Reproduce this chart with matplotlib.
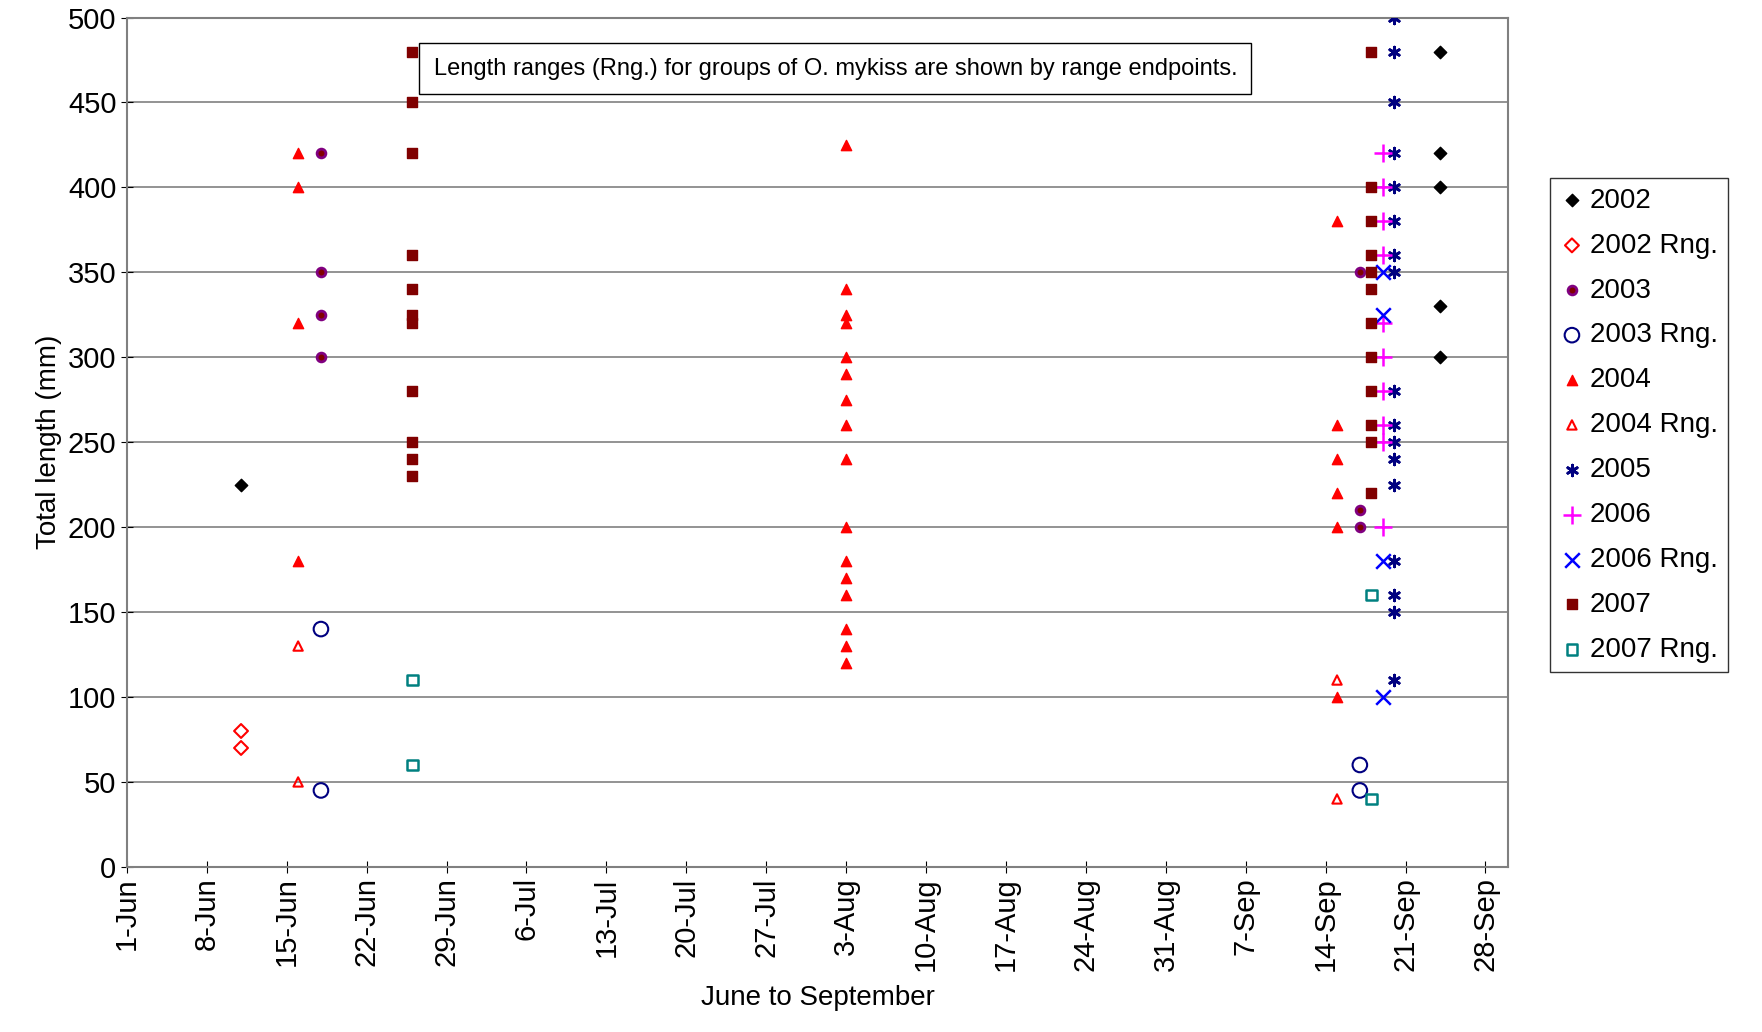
import datetime as dt

import matplotlib
matplotlib.use("Agg")
import matplotlib.pyplot as plt
import matplotlib.dates as mdates

plt.rcParams['font.family'] = ['Liberation Sans', 'DejaVu Sans']


def d(month, day):
    return dt.date(2000, month, day)


# (date, values) for each series
s2002 = [(d(6, 11), [225]), (d(9, 24), [480, 420, 400, 330, 300])]
s2002r = [(d(6, 11), [80, 70])]
s2003 = [(d(6, 18), [420, 350, 325, 300]), (d(9, 17), [350, 210, 200])]
s2003r = [(d(6, 18), [140, 45]), (d(9, 17), [60, 45])]
s2004 = [(d(6, 16), [420, 400, 320, 180]),
         (d(8, 3), [425, 340, 325, 320, 300, 290, 275, 260, 240, 200, 180, 170, 160, 140, 130, 120]),
         (d(9, 15), [380, 260, 240, 220, 200, 100])]
s2004r = [(d(6, 16), [130, 50]), (d(9, 15), [110, 40])]
s2005 = [(d(9, 20), [500, 480, 450, 420, 400, 380, 360, 350, 280, 260, 250, 240, 225, 180, 160, 150, 110])]
s2006 = [(d(9, 19), [420, 400, 380, 360, 320, 300, 280, 260, 250, 200])]
s2006r = [(d(9, 19), [350, 325, 180, 100])]
s2007 = [(d(6, 26), [480, 450, 420, 360, 340, 325, 320, 280, 250, 240, 230]),
         (d(9, 18), [480, 400, 380, 360, 350, 340, 320, 300, 280, 260, 250, 220])]
s2007r = [(d(6, 26), [110, 60]), (d(9, 18), [160, 40])]

series = [
    ("2002", s2002, dict(marker="D", color="black", s=40)),
    ("2002 Rng.", s2002r, dict(marker="D", facecolors="none", edgecolors="red", s=50, linewidths=1.5)),
    ("2003", s2003, dict(marker="o", facecolors="#800000", edgecolors="#800080", s=40, linewidths=2)),
    ("2003 Rng.", s2003r, dict(marker="o", facecolors="none", edgecolors="#000080", s=110, linewidths=1.5)),
    ("2004", s2004, dict(marker="^", color="red", s=55)),
    ("2004 Rng.", s2004r, dict(marker="^", facecolors="none", edgecolors="red", s=45, linewidths=1.5)),
    ("2005", s2005, dict(marker=(6, 2, 0), color="#000080", s=60, linewidths=2)),
    ("2006", s2006, dict(marker="+", color="#ff00ff", s=150, linewidths=1.8)),
    ("2006 Rng.", s2006r, dict(marker="x", color="#0000ff", s=110, linewidths=1.8)),
    ("2007", s2007, dict(marker="s", color="#800000", s=50)),
    ("2007 Rng.", s2007r, dict(marker="s", facecolors="none", edgecolors="#008080", s=60, linewidths=1.8)),
]

fig = plt.figure(figsize=(17.62, 10.32), dpi=100)
ax = fig.add_axes([0.072, 0.16, 0.784, 0.823])

for label, data, style in series:
    xs, ys = [], []
    for day, vals in data:
        xs += [day] * len(vals)
        ys += vals
    ax.scatter(xs, ys, label=label, zorder=3, **style)

ax.set_xlim(d(6, 1), d(9, 30))
ax.set_ylim(0, 500)
ax.set_yticks(range(0, 501, 50))
ax.yaxis.grid(True, color="#808080", linewidth=1.2)
ax.set_axisbelow(True)
ax.set_xticks([d(6, 1) + dt.timedelta(days=7 * i) for i in range(18)])
ax.xaxis.set_major_formatter(mdates.DateFormatter("%-d-%b"))
plt.setp(ax.get_xticklabels(), rotation=90)
ax.tick_params(labelsize=21, length=8, direction="inout")
for sp in ax.spines.values():
    sp.set_color("#808080")
    sp.set_linewidth(1.5)

ax.set_xlabel("June to September", fontsize=20, labelpad=10)
ax.set_ylabel("Total length (mm)", fontsize=20)

ax.text(0.222, 0.94, "Length ranges (Rng.) for groups of O. mykiss are shown by range endpoints.",
        transform=ax.transAxes, fontsize=17, va="center",
        bbox=dict(boxstyle="square,pad=0.6", facecolor="white", edgecolor="black"))

leg = ax.legend(loc="center left", bbox_to_anchor=(1.03, 0.52), fontsize=20,
                frameon=True, fancybox=False, edgecolor="black", handletextpad=0.2,
                borderpad=0.35, borderaxespad=0.0, labelspacing=0.68, handlelength=0.9)

fig.savefig("out.png", dpi=100)
